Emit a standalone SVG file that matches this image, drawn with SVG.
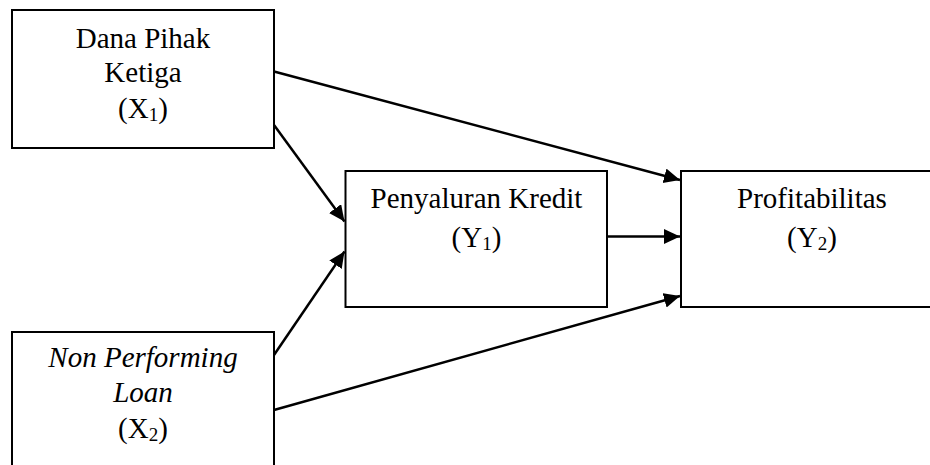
<svg xmlns="http://www.w3.org/2000/svg" width="930" height="465" viewBox="0 0 930 465">
<style>
.box{fill:#fff;stroke:#000;stroke-width:2}
.t{font-family:"Liberation Serif","Times New Roman",serif;font-size:29px;fill:#000;text-anchor:middle}
.sub{font-size:19px}
.c{stroke:#000;stroke-width:2.5;fill:none;marker-end:url(#ah)}
</style>
<defs>
<marker id="ah" markerUnits="userSpaceOnUse" markerWidth="18" markerHeight="16" refX="16" refY="7.5" orient="auto">
<path d="M0,0 L16,7.5 L0,15 z" fill="#000"/>
</marker>
</defs>
<rect width="930" height="465" fill="#fff"/>
<g id="x1">
<rect class="box" x="12" y="10" width="262" height="138"/>
<text class="t" x="143" y="48">Dana Pihak</text>
<text class="t" x="143" y="82">Ketiga</text>
<text class="t" x="143" y="118">(X<tspan class="sub" dy="3">1</tspan><tspan dy="-3">)</tspan></text>
</g>
<g id="x2">
<rect class="box" x="12" y="332" width="262" height="150"/>
<text class="t" x="143" y="367" font-style="italic">Non Performing</text>
<text class="t" x="143" y="402" font-style="italic">Loan</text>
<text class="t" x="143" y="438">(X<tspan class="sub" dy="3">2</tspan><tspan dy="-3">)</tspan></text>
</g>
<g id="y1">
<rect class="box" x="345.5" y="171" width="261.5" height="136"/>
<text class="t" x="476.5" y="208">Penyaluran Kredit</text>
<text class="t" x="476.5" y="247">(Y<tspan class="sub" dy="3">1</tspan><tspan dy="-3">)</tspan></text>
</g>
<g id="y2">
<rect class="box" x="681" y="171" width="270" height="136"/>
<text class="t" x="812" y="208">Profitabilitas</text>
<text class="t" x="812" y="247">(Y<tspan class="sub" dy="3">2</tspan><tspan dy="-3">)</tspan></text>
</g>
<g id="connectors">
<line class="c" x1="274" y1="71.5" x2="680" y2="180"/>
<line class="c" x1="274" y1="125" x2="344.5" y2="221.5"/>
<line class="c" x1="274" y1="355" x2="344.5" y2="251.5"/>
<line class="c" x1="274" y1="410" x2="680" y2="296"/>
<line class="c" x1="607" y1="236.5" x2="680" y2="236.5"/>
</g>
</svg>
